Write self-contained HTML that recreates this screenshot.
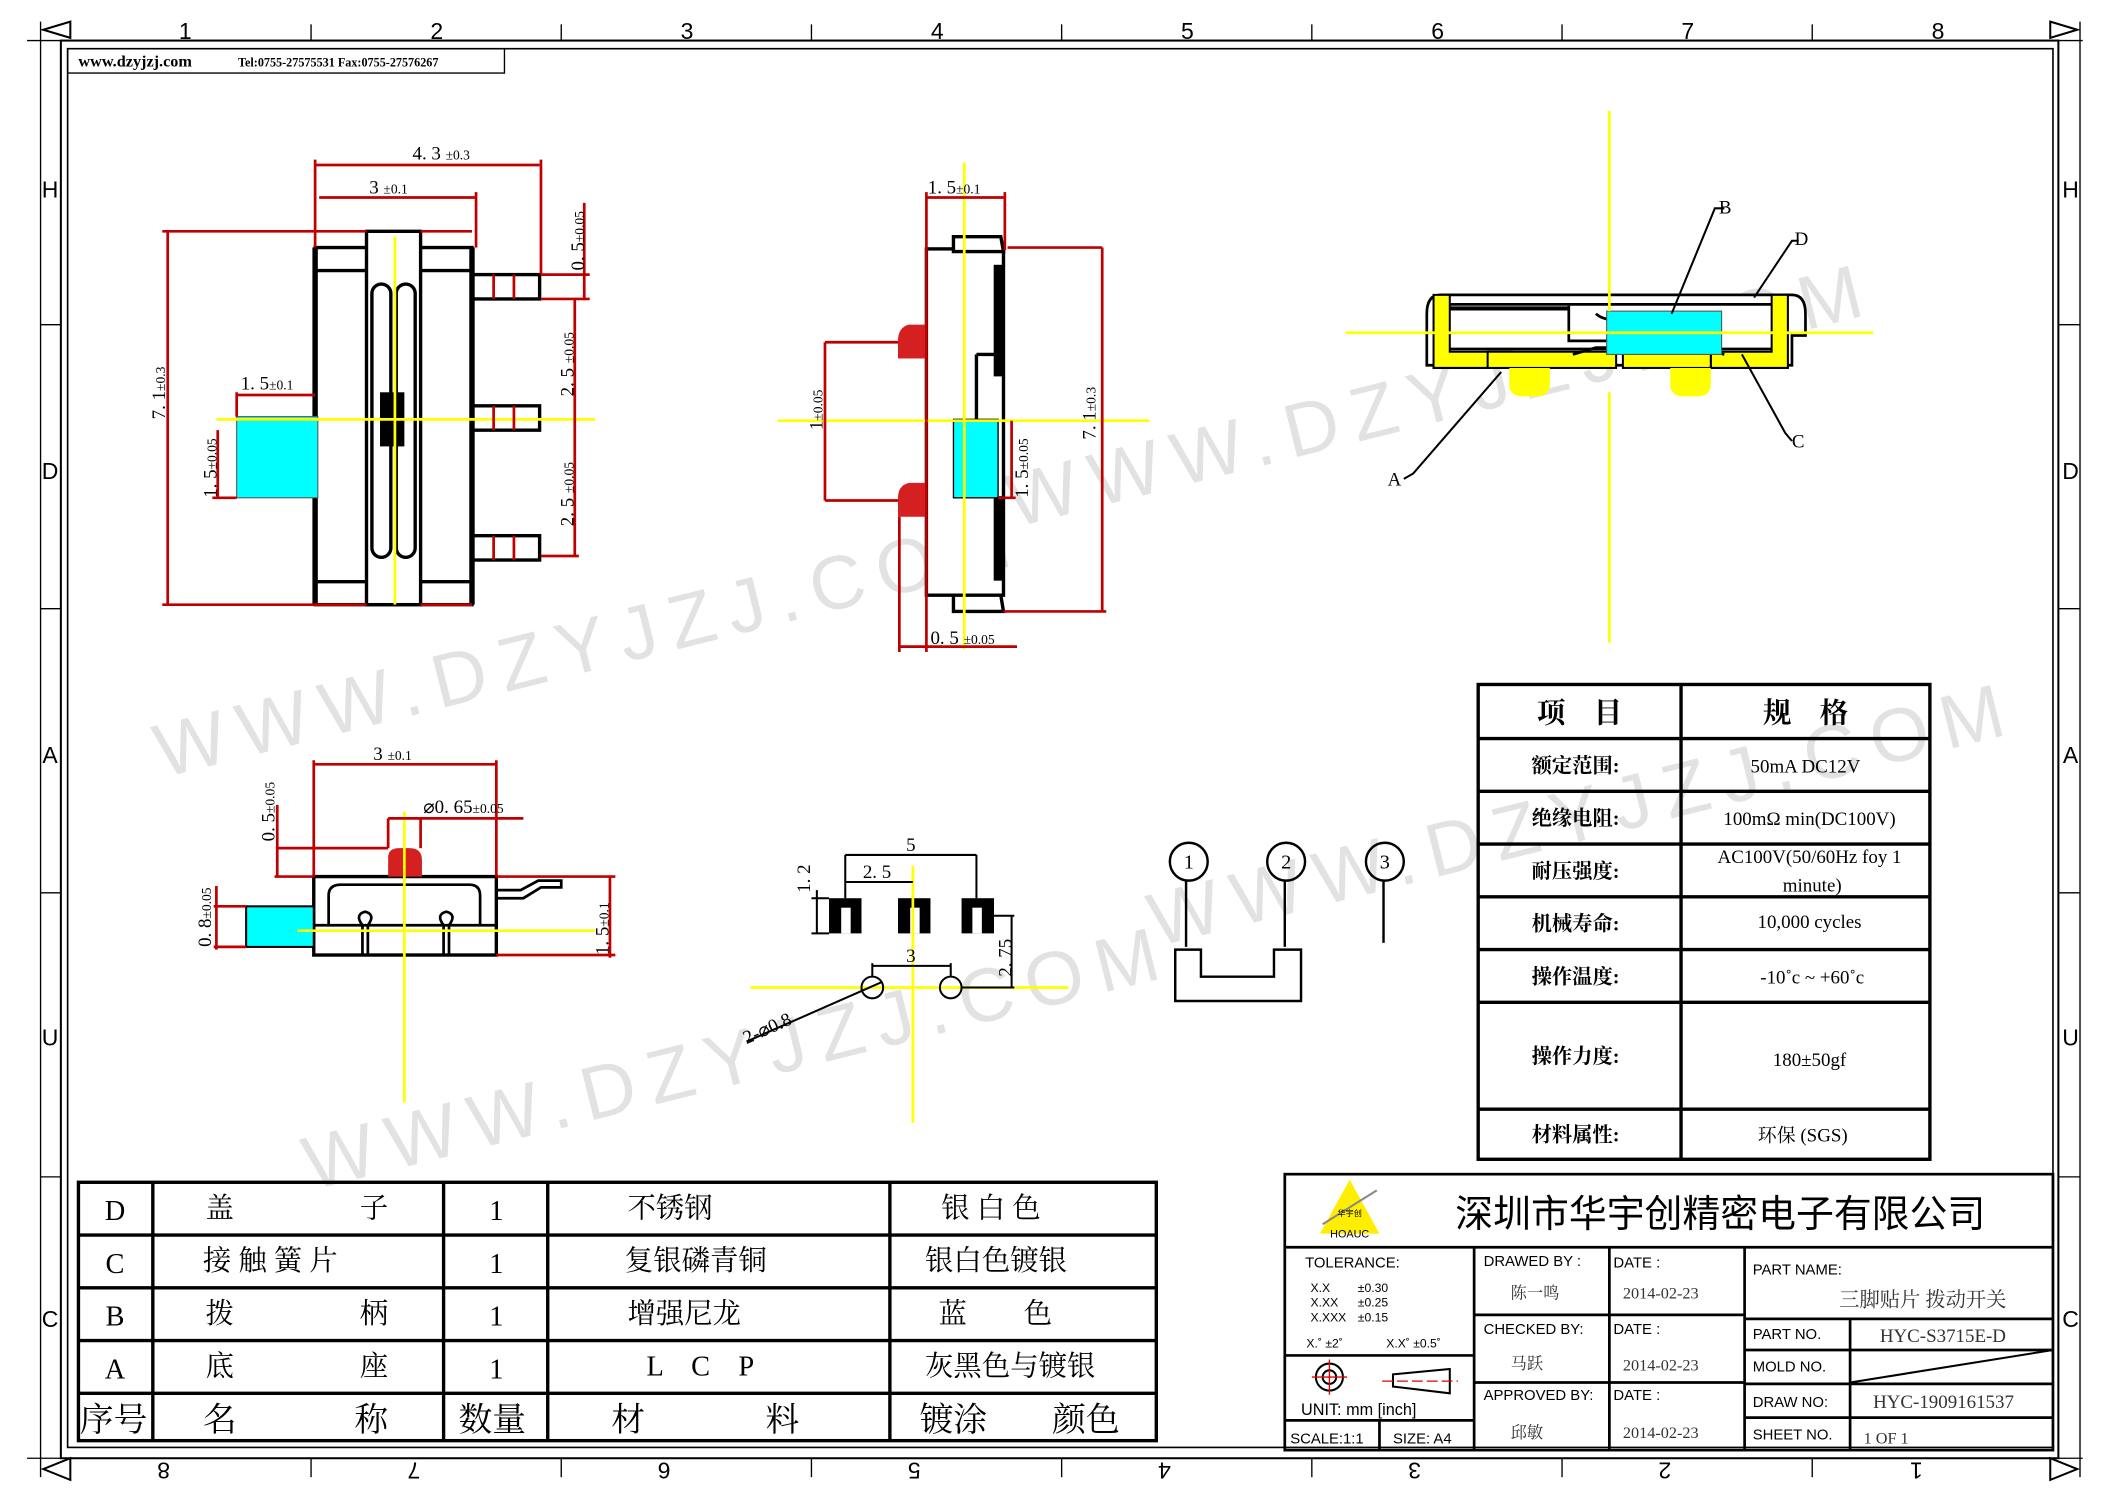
<!DOCTYPE html>
<html><head><meta charset="utf-8"><style>
html,body{margin:0;padding:0;background:#fff}
svg{display:block}
text{font-family:"Liberation Serif","Noto Serif CJK SC",serif}
.s{font-family:"Liberation Sans","Noto Sans CJK SC",sans-serif}
.c{font-family:"Liberation Serif","Noto Serif CJK SC",serif}
.wm{font-family:"Liberation Sans",sans-serif}
</style></head><body>
<svg width="2103" height="1488" viewBox="0 0 1555 1100" preserveAspectRatio="none" xmlns="http://www.w3.org/2000/svg">
<rect width="1555" height="1100" fill="#fff"/>
<!-- watermark -->
<g fill="#e2e2e2" font-size="56" class="wm">
<text class="wm" x="120" y="575" transform="rotate(-14 120 575)" letter-spacing="10">WWW.DZYJZJ.COM</text>
<text class="wm" x="750" y="390" transform="rotate(-14 750 390)" letter-spacing="10">WWW.DZYJZJ.COM</text>
<text class="wm" x="230" y="880" transform="rotate(-14 230 880)" letter-spacing="10">WWW.DZYJZJ.COM</text>
<text class="wm" x="855" y="700" transform="rotate(-14 855 700)" letter-spacing="10">WWW.DZYJZJ.COM</text>
</g>
<!-- frame -->
<g fill="none" stroke="#000">
<rect x="45" y="30" width="1477" height="1048" stroke-width="1.5"/>
<rect x="50" y="36" width="1468" height="1034" stroke-width="1.2"/>
<line x1="20" y1="30" x2="1540" y2="30"/>
<line x1="20" y1="1078" x2="1540" y2="1078"/>
<line x1="30" y1="16" x2="30" y2="1092"/>
<line x1="1538" y1="16" x2="1538" y2="1092"/>
</g>
<g fill="none" stroke="#000" stroke-width="1.5">
<path d="M32 22 L52 16 L52 28 Z"/><path d="M1536 22 L1516 16 L1516 28 Z"/>
<path d="M32 1086 L52 1078 L52 1094 Z"/><path d="M1536 1086 L1516 1078 L1516 1094 Z"/>
</g>
<g stroke="#000" stroke-width="1">
<line x1="230" y1="18" x2="230" y2="30"/><line x1="415" y1="18" x2="415" y2="30"/><line x1="600" y1="18" x2="600" y2="30"/><line x1="785" y1="18" x2="785" y2="30"/><line x1="970" y1="18" x2="970" y2="30"/><line x1="1155" y1="18" x2="1155" y2="30"/><line x1="1340" y1="18" x2="1340" y2="30"/>
<line x1="230" y1="1078" x2="230" y2="1092"/><line x1="415" y1="1078" x2="415" y2="1092"/><line x1="600" y1="1078" x2="600" y2="1092"/><line x1="785" y1="1078" x2="785" y2="1092"/><line x1="970" y1="1078" x2="970" y2="1092"/><line x1="1155" y1="1078" x2="1155" y2="1092"/><line x1="1340" y1="1078" x2="1340" y2="1092"/>
<line x1="30" y1="240" x2="45" y2="240"/><line x1="30" y1="450" x2="45" y2="450"/><line x1="30" y1="660" x2="45" y2="660"/><line x1="30" y1="870" x2="45" y2="870"/>
<line x1="1522" y1="240" x2="1538" y2="240"/><line x1="1522" y1="450" x2="1538" y2="450"/><line x1="1522" y1="660" x2="1538" y2="660"/><line x1="1522" y1="870" x2="1538" y2="870"/>
</g>
<g class="s" font-size="17" text-anchor="middle" fill="#000">
<text class="s" x="137" y="29">1</text><text class="s" x="323" y="29">2</text><text class="s" x="508" y="29">3</text><text class="s" x="693" y="29">4</text><text class="s" x="878" y="29">5</text><text class="s" x="1063" y="29">6</text><text class="s" x="1248" y="29">7</text><text class="s" x="1433" y="29">8</text>
<g transform="rotate(180 777 1087)"><text class="s" x="137" y="1093">1</text><text class="s" x="323" y="1093">2</text><text class="s" x="508" y="1093">3</text><text class="s" x="693" y="1093">4</text><text class="s" x="878" y="1093">5</text><text class="s" x="1063" y="1093">6</text><text class="s" x="1248" y="1093">7</text><text class="s" x="1433" y="1093">8</text></g>
<text class="s" x="37" y="146">H</text><text class="s" x="37" y="354">D</text><text class="s" x="37" y="564">A</text><text class="s" x="37" y="773">U</text><text class="s" x="37" y="981">C</text>
<text class="s" x="1531" y="146">H</text><text class="s" x="1531" y="354">D</text><text class="s" x="1531" y="564">A</text><text class="s" x="1531" y="773">U</text><text class="s" x="1531" y="981">C</text>
</g>
<!-- website box -->
<rect x="50" y="36" width="323" height="18" fill="none" stroke="#000"/>
<text x="58" y="49" font-size="12" font-weight="bold">www.dzyjzj.com</text>
<text x="176" y="49" font-size="9" font-weight="bold">Tel:0755-27575531  Fax:0755-27576267</text>

<!-- VIEW 1 -->
<g stroke="#000" stroke-width="2.5" fill="#fff">
<rect x="233" y="183" width="116" height="264"/>
<rect x="271" y="171" width="40" height="276"/>
<rect x="349" y="203" width="50" height="18"/><rect x="349" y="300" width="50" height="18"/><rect x="349" y="396" width="50" height="18"/>
<rect x="275" y="210" width="14" height="202" rx="7"/><rect x="293" y="210" width="14" height="202" rx="7"/>
</g>
<g stroke="#000" stroke-width="2.5" fill="none">
<line x1="233" y1="200" x2="271" y2="200"/><line x1="311" y1="200" x2="349" y2="200"/>
<line x1="233" y1="430" x2="271" y2="430"/><line x1="311" y1="430" x2="349" y2="430"/>
<line x1="233" y1="183" x2="233" y2="447" stroke-width="4"/><line x1="349" y1="183" x2="349" y2="447" stroke-width="4"/>
</g>
<rect x="281" y="290" width="18" height="40" fill="#000"/>
<rect x="175" y="308" width="60" height="60" fill="#00ffff" stroke="#555" stroke-width="0.8"/>
<g stroke="#ffff00" stroke-width="2"><line x1="292" y1="175" x2="292" y2="447"/><line x1="160" y1="310" x2="440" y2="310"/></g>
<g stroke="#c00000" stroke-width="2" fill="none">
<line x1="233" y1="122" x2="399" y2="122"/><line x1="233" y1="118" x2="233" y2="183"/><line x1="400" y1="118" x2="400" y2="203"/>
<line x1="236" y1="146" x2="352" y2="146"/><line x1="352" y1="142" x2="352" y2="183"/>
<line x1="124" y1="171" x2="124" y2="447"/><line x1="120" y1="171" x2="271" y2="171"/><line x1="120" y1="447" x2="271" y2="447"/><line x1="311" y1="171" x2="349" y2="171"/><line x1="311" y1="447" x2="349" y2="447"/>
<line x1="175" y1="292" x2="233" y2="292"/><line x1="175" y1="290" x2="175" y2="308"/>
<line x1="161" y1="318" x2="161" y2="368"/><line x1="157" y1="368" x2="175" y2="368"/>
<line x1="432" y1="150" x2="432" y2="222"/><line x1="400" y1="203" x2="436" y2="203"/><line x1="400" y1="221" x2="436" y2="221"/>
<line x1="425" y1="221" x2="425" y2="411"/><line x1="400" y1="411" x2="428" y2="411"/>
<line x1="365" y1="203" x2="365" y2="221"/><line x1="380" y1="203" x2="380" y2="221"/><line x1="365" y1="300" x2="365" y2="318"/><line x1="380" y1="300" x2="380" y2="318"/><line x1="365" y1="396" x2="365" y2="414"/><line x1="380" y1="396" x2="380" y2="414"/>
</g>
<g font-size="14" fill="#000">
<text x="305" y="118">4. 3 <tspan font-size="10">±0.3</tspan></text>
<text x="273" y="143">3 <tspan font-size="10">±0.1</tspan></text>
<text x="178" y="288">1. 5<tspan font-size="10">±0.1</tspan></text>
<text transform="translate(122,310) rotate(-90)">7. 1<tspan font-size="10">±0.3</tspan></text>
<text transform="translate(160,368) rotate(-90)">1. 5<tspan font-size="10">±0.05</tspan></text>
<text transform="translate(432,200) rotate(-90)">0. 5<tspan font-size="10">±0.05</tspan></text>
<text transform="translate(424,293) rotate(-90)">2. 5 <tspan font-size="10">±0.05</tspan></text>
<text transform="translate(424,389) rotate(-90)">2. 5 <tspan font-size="10">±0.05</tspan></text>
</g>

<!-- VIEW 2 -->
<g stroke="#000" stroke-width="2.5" fill="#fff">
<rect x="685" y="184" width="57" height="256"/>
<path d="M705 175 L740 175 L742 186 L705 186 Z"/><path d="M705 440 L740 440 L742 452 L705 452 Z"/>
<rect x="736" y="197" width="5" height="80" fill="#000"/><rect x="736" y="368" width="5" height="60" fill="#000"/>
<line x1="722" y1="262" x2="742" y2="262" fill="none"/><line x1="722" y1="262" x2="722" y2="310" fill="none"/>
</g>
<path d="M685 240 L672 240 Q664 242 664 252 L664 265 L685 265 Z" fill="#d42020"/>
<path d="M685 357 L672 357 Q664 359 664 368 L664 382 L685 382 Z" fill="#d42020"/>
<rect x="705" y="310" width="33" height="58" fill="#00ffff" stroke="#000" stroke-width="1"/>
<g stroke="#ffff00" stroke-width="2"><line x1="713" y1="120" x2="713" y2="480"/><line x1="575" y1="311" x2="850" y2="311"/></g>
<g stroke="#c00000" stroke-width="2" fill="none">
<line x1="685" y1="146" x2="743" y2="146"/><line x1="685" y1="142" x2="685" y2="482"/><line x1="743" y1="142" x2="743" y2="185"/>
<line x1="745" y1="183" x2="815" y2="183"/><line x1="815" y1="183" x2="815" y2="452"/><line x1="742" y1="452" x2="818" y2="452"/>
<line x1="610" y1="253" x2="664" y2="253"/><line x1="610" y1="253" x2="610" y2="370"/><line x1="610" y1="370" x2="664" y2="370"/>
<line x1="748" y1="311" x2="748" y2="368"/><line x1="738" y1="368" x2="751" y2="368"/>
<line x1="665" y1="382" x2="665" y2="482"/><line x1="665" y1="478" x2="752" y2="478"/>
</g>
<g font-size="14" fill="#000">
<text x="686" y="143">1. 5<tspan font-size="10">±0.1</tspan></text>
<text x="688" y="476">0. 5 <tspan font-size="10">±0.05</tspan></text>
<text transform="translate(608,318) rotate(-90)">1<tspan font-size="10">±0.05</tspan></text>
<text transform="translate(760,368) rotate(-90)">1. 5<tspan font-size="10">±0.05</tspan></text>
<text transform="translate(810,325) rotate(-90)">7. 1<tspan font-size="10">±0.3</tspan></text>
</g>

<!-- VIEW 3 section -->
<g stroke="#000" stroke-width="2" fill="#fff">
<path d="M1055 232 Q1055 218 1065 218 L1325 218 Q1335 218 1335 232 L1335 248 L1325 248 L1325 270 L1055 270 L1055 248 Z"/>
</g>
<path d="M1060 218 L1072 218 L1072 260 L1118 260 L1118 272 L1060 272 Z" fill="#ffff00" stroke="#000" stroke-width="1.5"/>
<path d="M1310 218 L1322 218 L1322 272 L1265 272 L1265 260 L1310 260 Z" fill="#ffff00" stroke="#000" stroke-width="1.5"/>
<rect x="1100" y="260" width="95" height="12" fill="#ffff00" stroke="#000" stroke-width="1.5"/>
<rect x="1200" y="260" width="65" height="12" fill="#ffff00" stroke="#000" stroke-width="1.5"/>
<path d="M1116 272 L1116 284 Q1116 293 1126 293 L1136 293 Q1146 293 1146 284 L1146 272 Z" fill="#ffff00"/>
<path d="M1235 272 L1235 284 Q1235 293 1245 293 L1255 293 Q1265 293 1265 284 L1265 272 Z" fill="#ffff00"/>
<g stroke="#000" stroke-width="2" fill="none">
<line x1="1072" y1="225" x2="1310" y2="225"/><line x1="1072" y1="228" x2="1160" y2="228" stroke-width="3"/>
<line x1="1072" y1="258" x2="1310" y2="258"/><path d="M1160 226 L1160 252 L1210 252"/>
<path d="M1180 232 Q1190 240 1200 232"/>
<path d="M1163 262 L1180 257 L1255 257 L1275 262"/>
</g>
<rect x="1188" y="230" width="85" height="32" fill="#00ffff" stroke="#555" stroke-width="0.8"/>
<g stroke="#ffff00" stroke-width="2"><line x1="1190" y1="82" x2="1190" y2="230"/><line x1="1190" y1="290" x2="1190" y2="475"/><line x1="995" y1="246" x2="1385" y2="246"/></g>
<g stroke="#000" stroke-width="1.5" fill="none">
<path d="M1236 232 L1268 154 L1275 154"/><path d="M1297 220 L1325 178 L1330 178"/>
<path d="M1288 262 L1320 320 L1325 326"/><path d="M1110 275 L1045 350 L1038 354"/>
</g>
<g font-size="14" fill="#000"><text x="1271" y="158">B</text><text x="1327" y="181">D</text><text x="1325" y="331">C</text><text x="1026" y="359">A</text></g>

<!-- VIEW 4 -->
<g stroke="#000" stroke-width="2.5" fill="#fff">
<rect x="232" y="648" width="135" height="58"/>
</g>
<g stroke="#000" stroke-width="2" fill="none">
<path d="M243 684 L243 662 Q243 654 252 654 L347 654 Q355 654 355 662 L355 684"/>
<line x1="232" y1="684" x2="367" y2="684"/>
<path d="M268 706 L268 684 Q262 676 270 674 Q278 676 272 684 L272 706"/>
<path d="M328 706 L328 684 Q322 676 330 674 Q338 676 332 684 L332 706"/>
<path d="M367 658 L385 658 L398 651 L415 651 L415 656 L400 656 L387 664 L367 664"/>
</g>
<path d="M287 648 L287 634 Q287 627 295 627 L303 627 Q312 627 312 636 L312 648 Z" fill="#d42020"/>
<rect x="182" y="670" width="50" height="30" fill="#00ffff" stroke="#000" stroke-width="1.5"/>
<g stroke="#ffff00" stroke-width="2"><line x1="299" y1="600" x2="299" y2="815"/><line x1="220" y1="688" x2="440" y2="688"/></g>
<g stroke="#c00000" stroke-width="2" fill="none">
<line x1="232" y1="562" x2="232" y2="648"/><line x1="232" y1="565" x2="367" y2="565"/><line x1="367" y1="562" x2="367" y2="648"/>
<line x1="287" y1="605" x2="387" y2="605"/><line x1="287" y1="605" x2="287" y2="627"/><line x1="311" y1="605" x2="311" y2="627"/>
<line x1="205" y1="595" x2="205" y2="648"/><line x1="205" y1="627" x2="287" y2="627"/><line x1="203" y1="648" x2="232" y2="648"/>
<line x1="158" y1="670" x2="182" y2="670"/><line x1="158" y1="700" x2="182" y2="700"/><line x1="160" y1="655" x2="160" y2="702"/>
<line x1="367" y1="648" x2="455" y2="648"/><line x1="367" y1="706" x2="455" y2="706"/><line x1="451" y1="648" x2="451" y2="708"/>
</g>
<g font-size="14" fill="#000">
<text x="276" y="562">3 <tspan font-size="10">±0.1</tspan></text>
<text x="313" y="601">⌀0. 65<tspan font-size="10">±0.05</tspan></text>
<text transform="translate(203,622) rotate(-90)">0. 5<tspan font-size="10">±0.05</tspan></text>
<text transform="translate(156,700) rotate(-90)">0. 8<tspan font-size="10">±0.05</tspan></text>
<text transform="translate(450,706) rotate(-90)">1. 5<tspan font-size="10">±0.1</tspan></text>
</g>

<!-- VIEW 5 footprint -->
<g fill="#000"><rect x="613" y="664" width="24" height="26"/><rect x="664" y="664" width="24" height="26"/><rect x="711" y="664" width="24" height="26"/></g>
<g fill="#fff"><rect x="622" y="671" width="7" height="19"/><rect x="673" y="671" width="7" height="19"/><rect x="719" y="671" width="7" height="19"/></g>
<g stroke="#ffff00" stroke-width="2"><line x1="675" y1="640" x2="675" y2="830"/><line x1="555" y1="730" x2="790" y2="730"/></g>
<g stroke="#000" stroke-width="1.5" fill="none">
<circle cx="645" cy="730" r="8"/><circle cx="703" cy="730" r="8"/>
<line x1="625" y1="632" x2="722" y2="632"/><line x1="625" y1="632" x2="625" y2="664"/><line x1="722" y1="632" x2="722" y2="664"/>
<line x1="625" y1="652" x2="675" y2="652"/>
<line x1="600" y1="664" x2="613" y2="664"/><line x1="600" y1="690" x2="613" y2="690"/><line x1="604" y1="658" x2="604" y2="690"/>
<line x1="645" y1="712" x2="645" y2="722"/><line x1="703" y1="712" x2="703" y2="722"/><line x1="645" y1="714" x2="703" y2="714"/>
<line x1="735" y1="677" x2="750" y2="677"/><line x1="748" y1="677" x2="748" y2="730"/><line x1="711" y1="730" x2="750" y2="730"/>
<line x1="552" y1="770" x2="652" y2="726"/>
</g>
<g font-size="14" fill="#000">
<text x="670" y="629">5</text><text x="638" y="649">2. 5</text><text x="670" y="711">3</text>
<text transform="translate(599,660) rotate(-90)">1. 2</text>
<text transform="translate(748,722) rotate(-90)">2. 75</text>
<text transform="translate(552,772) rotate(-24)">2-⌀0.8</text>
</g>

<!-- VIEW 6 circuit -->
<g stroke="#000" stroke-width="1.8" fill="none">
<circle cx="879" cy="637" r="14"/><circle cx="951" cy="637" r="14"/><circle cx="1024" cy="637" r="14"/>
<line x1="877" y1="651" x2="877" y2="700"/><line x1="950" y1="651" x2="950" y2="700"/><line x1="1023" y1="651" x2="1023" y2="697"/>
<path d="M869 702 L888 702 L888 722 L942 722 L942 702 L962 702 L962 740 L869 740 Z"/>
</g>
<g font-size="15" fill="#000" text-anchor="middle"><text x="879" y="642">1</text><text x="951" y="642">2</text><text x="1024" y="642">3</text></g>

<!-- SPEC TABLE -->
<g stroke="#000" stroke-width="2.5" fill="none">
<rect x="1093" y="506" width="334" height="351"/>
<line x1="1243" y1="506" x2="1243" y2="857"/>
<line x1="1093" y1="546" x2="1427" y2="546"/><line x1="1093" y1="585" x2="1427" y2="585"/><line x1="1093" y1="624" x2="1427" y2="624"/><line x1="1093" y1="663" x2="1427" y2="663"/><line x1="1093" y1="702" x2="1427" y2="702"/><line x1="1093" y1="741" x2="1427" y2="741"/><line x1="1093" y1="820" x2="1427" y2="820"/>
</g>
<g fill="#000" text-anchor="middle" class="c">
<text x="1168" y="534" font-size="21" font-weight="bold">项　目</text>
<text x="1335" y="534" font-size="21" font-weight="bold">规　格</text>
<g font-size="15" font-weight="bold"><text x="1165" y="571">额定范围:</text><text x="1165" y="610">绝缘电阻:</text><text x="1165" y="649">耐压强度:</text><text x="1165" y="688">机械寿命:</text><text x="1165" y="727">操作温度:</text><text x="1165" y="786">操作力度:</text><text x="1165" y="844">材料属性:</text></g>
<g font-size="14"><text x="1335" y="571">50mA DC12V</text><text x="1338" y="610">100mΩ min(DC100V)</text><text x="1338" y="638">AC100V(50/60Hz foy 1</text><text x="1340" y="659">minute)</text><text x="1338" y="686">10,000 cycles</text><text x="1340" y="727">-10˚c ~ +60˚c</text><text x="1338" y="788">180±50gf</text><text x="1333" y="844">环保 (SGS)</text></g>
</g>

<!-- PARTS TABLE -->
<g stroke="#000" stroke-width="2.5" fill="none">
<rect x="58" y="874" width="797" height="191"/>
<line x1="58" y1="913" x2="855" y2="913"/><line x1="58" y1="952" x2="855" y2="952"/><line x1="58" y1="991" x2="855" y2="991"/><line x1="58" y1="1030" x2="855" y2="1030"/>
<line x1="113" y1="874" x2="113" y2="1065"/><line x1="328" y1="874" x2="328" y2="1065"/><line x1="405" y1="874" x2="405" y2="1065"/><line x1="658" y1="874" x2="658" y2="1065"/>
</g>
<g fill="#000" class="c" font-size="21">
<g text-anchor="middle"><text x="85" y="902">D</text><text x="85" y="941">C</text><text x="85" y="980">B</text><text x="85" y="1019">A</text>
<text x="367" y="902">1</text><text x="367" y="941">1</text><text x="367" y="980">1</text><text x="367" y="1019">1</text></g>
<text x="152" y="900">盖</text><text x="266" y="900">子</text>
<text x="150" y="939">接 触 簧 片</text>
<text x="152" y="978">拨</text><text x="266" y="978">柄</text>
<text x="152" y="1017">底</text><text x="266" y="1017">座</text>
<text x="464" y="900">不锈钢</text><text x="462" y="939">复银磷青铜</text><text x="464" y="978">增强尼龙</text><text x="478" y="1017">L　C　P</text>
<text x="696" y="900">银 白 色</text><text x="684" y="939">银白色镀银</text><text x="694" y="978">蓝　　色</text><text x="684" y="1017">灰黑色与镀银</text>
<g font-size="25"><text x="59" y="1058">序号</text><text x="150" y="1058">名</text><text x="262" y="1058">称</text><text x="339" y="1058">数量</text><text x="452" y="1058">材</text><text x="566" y="1058">料</text><text x="680" y="1058">镀涂</text><text x="778" y="1058">颜色</text></g>
</g>

<!-- TITLE BLOCK -->
<g stroke="#000" stroke-width="2" fill="none">
<rect x="950" y="868" width="568" height="204"/>
<line x1="950" y1="922" x2="1518" y2="922"/>
<line x1="1090" y1="922" x2="1090" y2="1072"/><line x1="1190" y1="922" x2="1190" y2="1072"/><line x1="1290" y1="922" x2="1290" y2="1072"/>
<line x1="1090" y1="972" x2="1290" y2="972"/><line x1="1090" y1="1022" x2="1290" y2="1022"/>
<line x1="1290" y1="975" x2="1518" y2="975"/><line x1="1290" y1="998" x2="1518" y2="998"/><line x1="1290" y1="1023" x2="1518" y2="1023"/><line x1="1290" y1="1048" x2="1518" y2="1048"/>
<line x1="1368" y1="975" x2="1368" y2="1072"/>
<line x1="1368" y1="1022" x2="1518" y2="998" stroke-width="1.5"/>
<line x1="950" y1="1002" x2="1090" y2="1002"/><line x1="950" y1="1050" x2="1090" y2="1050"/><line x1="1020" y1="1050" x2="1020" y2="1072"/>
</g>
<path d="M998 872 L1020 912 L976 912 Z" fill="#ffee00"/>
<line x1="978" y1="905" x2="1018" y2="880" stroke="#888" stroke-width="1.5"/>
<text x="998" y="899" font-size="6" text-anchor="middle" class="s">华宇创</text>
<text x="998" y="915" font-size="8" text-anchor="middle" class="s">HOAUC</text>
<text x="1272" y="907" font-size="28" text-anchor="middle" class="s">深圳市华宇创精密电子有限公司</text>
<g fill="#000">
<text class="s" x="965" y="937" font-size="11">TOLERANCE:</text>
<text class="s" x="969" y="955" font-size="9">X.X</text><text class="s" x="1004" y="955" font-size="9">±0.30</text>
<text class="s" x="969" y="966" font-size="9">X.XX</text><text class="s" x="1004" y="966" font-size="9">±0.25</text>
<text class="s" x="969" y="977" font-size="9">X.XXX</text><text class="s" x="1004" y="977" font-size="9">±0.15</text>
<text class="s" x="966" y="996" font-size="9">X.˚ ±2˚</text><text class="s" x="1025" y="996" font-size="9">X.X˚ ±0.5˚</text>
<text class="s" x="962" y="1046" font-size="12">UNIT:  mm  [inch]</text>
<text class="s" x="954" y="1067" font-size="11">SCALE:1:1</text><text class="s" x="1030" y="1067" font-size="11">SIZE:  A4</text>
<text class="s" x="1097" y="936" font-size="11">DRAWED  BY :</text><text class="s" x="1097" y="986" font-size="11">CHECKED  BY:</text><text class="s" x="1097" y="1035" font-size="11">APPROVED  BY:</text>
<text class="s" x="1193" y="937" font-size="11">DATE  :</text><text class="s" x="1193" y="986" font-size="11">DATE  :</text><text class="s" x="1193" y="1035" font-size="11">DATE  :</text>
<text class="s" x="1296" y="942" font-size="11">PART  NAME:</text>
<text class="s" x="1296" y="990" font-size="11">PART  NO.</text><text class="s" x="1296" y="1014" font-size="11">MOLD  NO.</text><text class="s" x="1296" y="1040" font-size="11">DRAW  NO:</text><text class="s" x="1296" y="1064" font-size="11">SHEET  NO.</text>
</g>
<g class="c" fill="#333" font-size="12">
<text x="1117" y="960">陈一鸣</text><text x="1117" y="1012">马跃</text><text x="1117" y="1063">邱敏</text>
<text x="1200" y="960">2014-02-23</text><text x="1200" y="1013">2014-02-23</text><text x="1200" y="1063">2014-02-23</text>
<text x="1360" y="966" font-size="15">三脚贴片  拨动开关</text>
<text x="1390" y="992" font-size="14">HYC-S3715E-D</text>
<text x="1385" y="1041" font-size="14">HYC-1909161537</text>
<text x="1378" y="1067">1  OF  1</text>
</g>
<g stroke="#000" stroke-width="1.5" fill="none">
<circle cx="983" cy="1018" r="10"/><circle cx="983" cy="1018" r="5"/>
<path d="M1030 1016 L1072 1012 L1072 1030 L1030 1025 Z"/>
</g>
<g stroke="#d00" stroke-width="1"><line x1="970" y1="1018" x2="996" y2="1018"/><line x1="983" y1="1005" x2="983" y2="1031"/><line x1="1022" y1="1021" x2="1078" y2="1021" stroke-dasharray="8,3"/></g>
</svg>
</body></html>
